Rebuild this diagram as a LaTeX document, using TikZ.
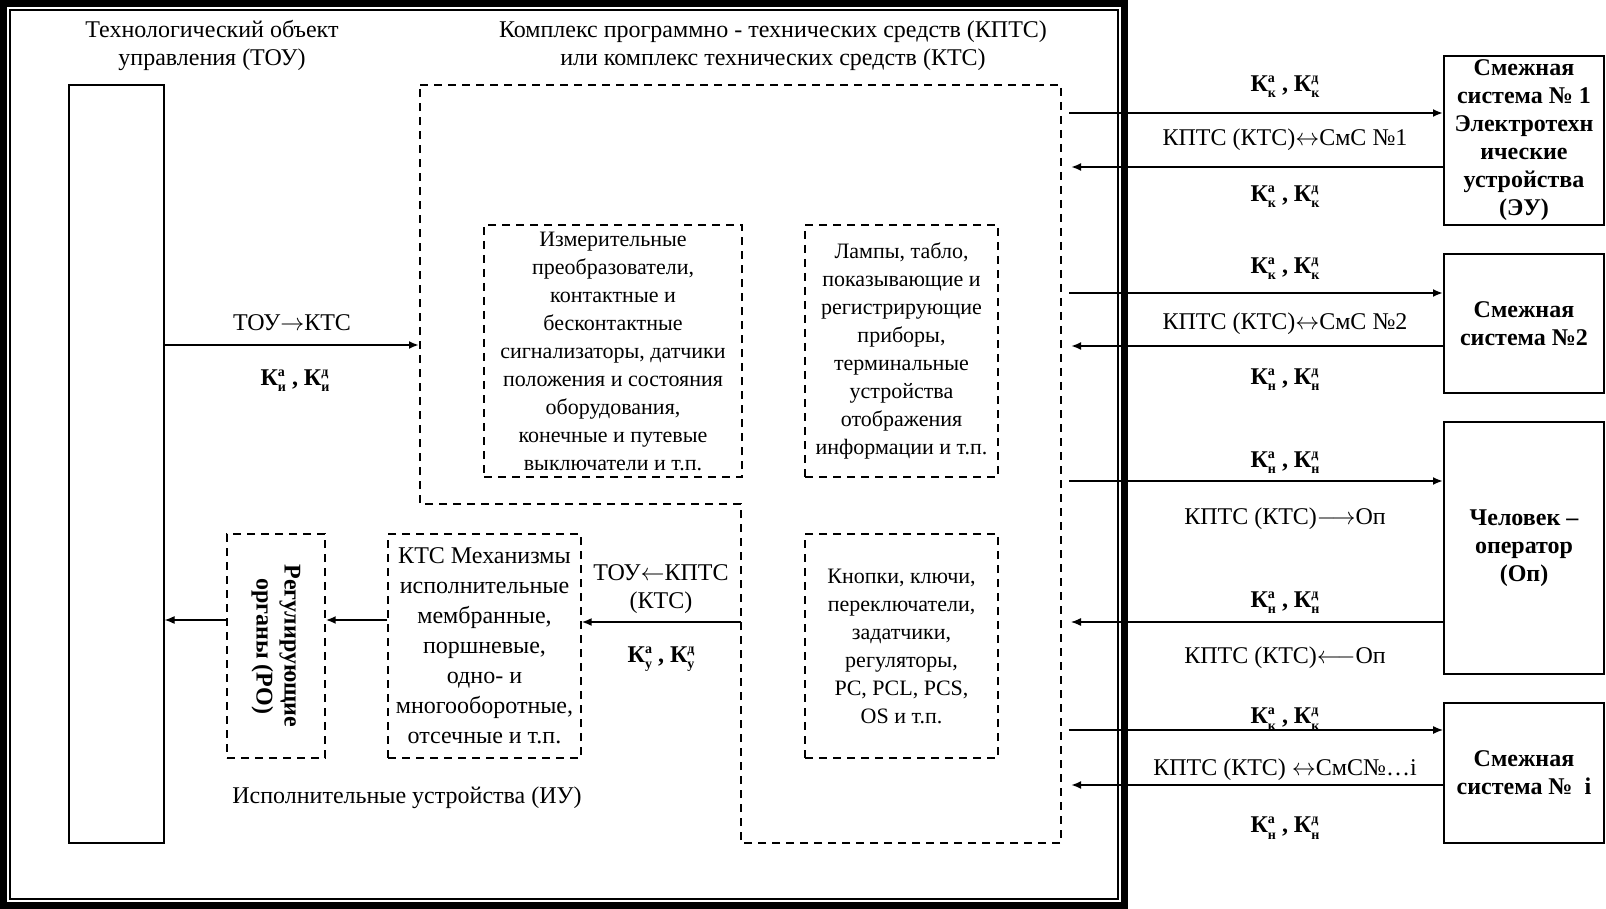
\documentclass[tikz,border=0pt]{standalone}
\usepackage{fontspec}
\setmainfont{Liberation Serif}
\usetikzlibrary{arrows.meta}
\newcommand\Kone[2]{К\makebox[0pt][l]{\raisebox{0.85ex}{\scriptsize #1}}\raisebox{-0.55ex}{\scriptsize #2}}
\newcommand\KK[1]{\textbf{\Kone{а}{#1} , \Kone{д}{#1}}}
\begin{document}
\begin{tikzpicture}[x=0.5pt,y=-0.5pt,
  txt/.style={font=\fontsize{12}{14}\selectfont, align=center, inner sep=0pt},
  dbox/.style={draw, dash pattern=on 4pt off 3pt, line width=0.7pt, inner sep=0pt, align=center, font=\fontsize{11}{14}\selectfont},
  sbox/.style={draw, line width=1pt, inner sep=0pt, align=center, font=\bfseries\fontsize{12}{14}\selectfont},
  arr/.style={-{Latex[length=5pt,width=4pt]}, line width=1pt},
  arrt/.style={-{Latex[length=5pt,width=4pt]}, line width=0.6pt}]
\useasboundingbox (0,0) rectangle (1606,909);
% frame
\fill[black] (0,0) rectangle (1128,909);
\fill[white] (7,7) rectangle (1121,902);
\draw[line width=1pt] (10,10) rectangle (1118,899);
% titles
\node[txt] (t1) at (212,45.5) {Технологический объект\\управления (ТОУ)};
\node[txt] (t2) at (773,45.5) {Комплекс программно - технических средств (КПТС)\\или комплекс технических средств (КТС)};
% TOU
\node[draw, line width=0.6pt, minimum width=47.5pt, minimum height=379pt, inner sep=0pt] (tou) at (116.5,464) {};
% KPTS outline
\draw[dash pattern=on 4pt off 3pt, line width=0.7pt] (420,85) -- (1061,85) -- (1061,843) -- (741,843) -- (741,504) -- (420,504) -- cycle;
% inner boxes
\node[dbox, minimum width=129pt, minimum height=126pt] (meas) at (613,351) {Измерительные\\преобразователи,\\контактные и\\бесконтактные\\сигнализаторы, датчики\\положения и состояния\\оборудования,\\конечные и путевые\\выключатели и т.п.};
\node[dbox, minimum width=96.5pt, minimum height=126pt] (lamp) at (901.5,351) {Лампы, табло,\\показывающие и\\регистрирующие\\приборы,\\терминальные\\устройства\\отображения\\информации и т.п.};
\node[dbox, minimum width=96.5pt, minimum height=112pt] (btn) at (901.5,646) {Кнопки, ключи,\\переключатели,\\задатчики,\\регуляторы,\\PC, PCL, PCS,\\OS и т.п.};
\node[dbox, minimum width=96.5pt, minimum height=112pt, font=\fontsize{12}{15}\selectfont] (mech) at (484.5,646) {КТС Механизмы\\исполнительные\\мембранные,\\поршневые,\\одно- и\\многооборотные,\\отсечные и т.п.};
\node[dbox, minimum width=49pt, minimum height=112pt] (reg) at (276,646) {};
\node[txt, font=\bfseries\fontsize{12}{14}\selectfont, rotate=-90] (regt) at (reg.center) {Регулирующие\\органы (РО)};
% left arrows
\coordinate (k1) at (419,345);
\draw[arr] (k1 -| tou.east) -- (k1);
\node[txt] (l1) at (292,323) {ТОУ$\rightarrow$КТС};
\node[txt] (l2) at (295,381) {\KK{и}};
\coordinate (k2) at (741,622);
\coordinate (k3) at (0,620);
\draw[arrt, line width=0.8pt] (k2) -- (k2 -| mech.east);
\draw[arr] (mech.west |- k3) -- (reg.east |- k3);
\draw[arrt] (reg.west |- k3) -- (tou.east |- k3);
\node[txt] (l3) at (661,589) {ТОУ$\leftarrow$КПТС\\(КТС)};
\node[txt] (l4) at (661,659) {\KK{у}};
\node[txt] (l5) at (407,798) {Исполнительные устройства (ИУ)};
% right boxes
\node[sbox, minimum width=80pt, minimum height=84.5pt] (b1) at (1524,140.5) {Смежная\\система № 1\\Электротехн\\ические\\устройства\\(ЭУ)};
\node[sbox, minimum width=80pt, minimum height=69.5pt] (b2) at (1524,323.5) {Смежная\\система №2};
\node[sbox, minimum width=80pt, minimum height=126pt] (b3) at (1524,548) {Человек –\\оператор\\(Оп)};
\node[sbox, minimum width=80pt, minimum height=70pt] (b4) at (1524,773) {Смежная\\система №\ \ i};
% right arrows
\coordinate (o1) at (1069,113);
\coordinate (i1) at (1071,167);
\draw[arr] (o1) -- (o1 -| b1.west);
\draw[arr] (i1 -| b1.west) -- (i1);
\node[txt] (r11) at (1285,87) {\KK{к}};
\node[txt] (r12) at (1285,140) {КПТС (КТС)$\leftrightarrow$СмС №1};
\node[txt] (r13) at (1285,197) {\KK{к}};
\coordinate (o2) at (1069,293);
\coordinate (i2) at (1071,346);
\draw[arr] (o2) -- (o2 -| b2.west);
\draw[arr] (i2 -| b2.west) -- (i2);
\node[txt] (r21) at (1285,269) {\KK{к}};
\node[txt] (r22) at (1285,324) {КПТС (КТС)$\leftrightarrow$СмС №2};
\node[txt] (r23) at (1285,380) {\KK{н}};
\coordinate (o3) at (1069,481);
\coordinate (i3) at (1071,622);
\draw[arr] (o3) -- (o3 -| b3.west);
\draw[arrt] (i3 -| b3.west) -- (i3);
\node[txt] (r31) at (1285,463) {\KK{н}};
\node[txt] (r32) at (1285,519) {КПТС (КТС)$\longrightarrow$Оп};
\node[txt] (r33) at (1285,603) {\KK{н}};
\node[txt] (r34) at (1285,658) {КПТС (КТС)$\longleftarrow$Оп};
\coordinate (o4) at (1069,730);
\coordinate (i4) at (1071,785);
\draw[arrt] (o4) -- (o4 -| b4.west);
\draw[arr] (i4 -| b4.west) -- (i4);
\node[txt] (r41) at (1285,719) {\KK{к}};
\node[txt] (r42) at (1285,770) {КПТС (КТС) $\leftrightarrow$СмС№…i};
\node[txt] (r43) at (1285,828) {\KK{н}};
\end{tikzpicture}
\end{document}
